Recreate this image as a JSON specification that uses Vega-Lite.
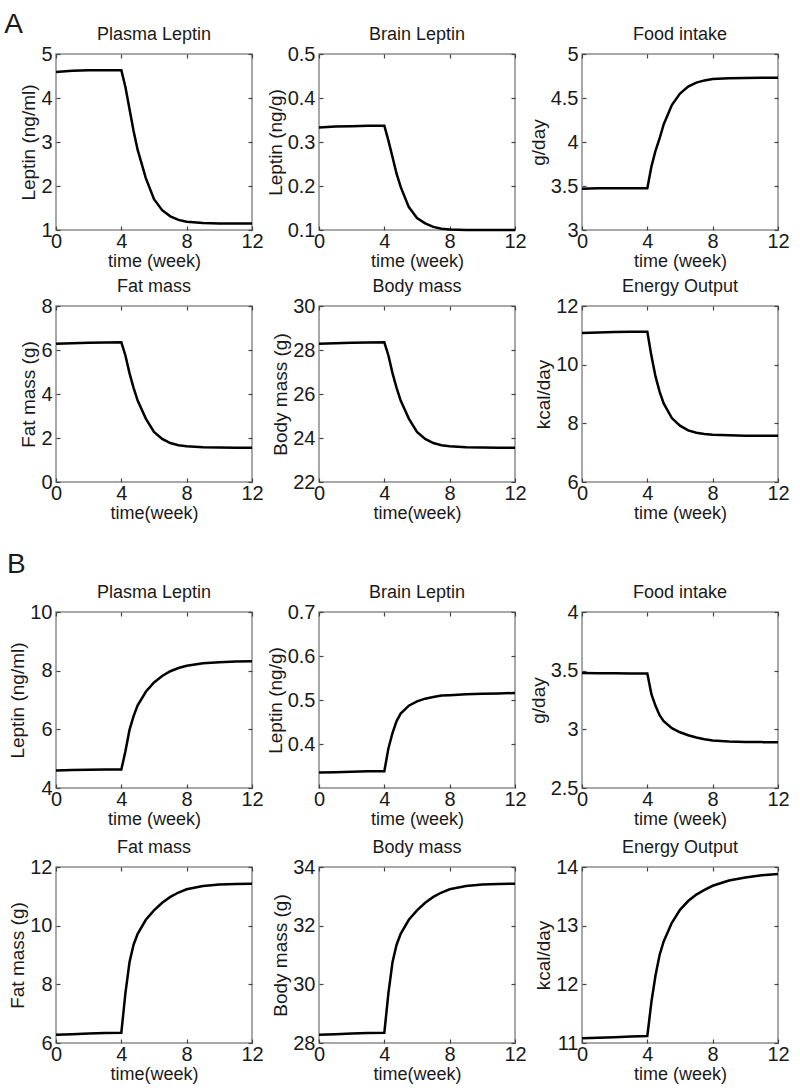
{
"$schema": "https://vega.github.io/schema/vega-lite/v6.json",
"padding": {"left": 4, "top": 11, "right": 5, "bottom": 5},
"background": "white",
"datasets": {
"A11": [{"t":0,"v":4.59},{"t":1,"v":4.62},{"t":2,"v":4.63},{"t":3,"v":4.63},{"t":4,"v":4.63},{"t":4.25,"v":4.25},{"t":4.5,"v":3.75},{"t":4.75,"v":3.25},{"t":5,"v":2.82},{"t":5.5,"v":2.18},{"t":6,"v":1.7},{"t":6.5,"v":1.45},{"t":7,"v":1.31},{"t":7.5,"v":1.23},{"t":8,"v":1.19},{"t":9,"v":1.16},{"t":10,"v":1.15},{"t":11,"v":1.15},{"t":12,"v":1.15}],
"A12": [{"t":0,"v":0.333},{"t":1,"v":0.335},{"t":2,"v":0.336},{"t":3,"v":0.337},{"t":4,"v":0.337},{"t":4.25,"v":0.303},{"t":4.5,"v":0.266},{"t":4.75,"v":0.228},{"t":5,"v":0.198},{"t":5.5,"v":0.152},{"t":6,"v":0.127},{"t":6.5,"v":0.115},{"t":7,"v":0.107},{"t":7.5,"v":0.103},{"t":8,"v":0.101},{"t":9,"v":0.1},{"t":10,"v":0.1},{"t":11,"v":0.1},{"t":12,"v":0.1}],
"A13": [{"t":0,"v":3.47},{"t":1,"v":3.475},{"t":2,"v":3.475},{"t":3,"v":3.475},{"t":4,"v":3.475},{"t":4.25,"v":3.72},{"t":4.5,"v":3.9},{"t":4.75,"v":4.04},{"t":5,"v":4.2},{"t":5.5,"v":4.42},{"t":6,"v":4.55},{"t":6.5,"v":4.63},{"t":7,"v":4.675},{"t":7.5,"v":4.7},{"t":8,"v":4.715},{"t":9,"v":4.725},{"t":10,"v":4.728},{"t":11,"v":4.73},{"t":12,"v":4.73}],
"A21": [{"t":0,"v":6.28},{"t":1,"v":6.31},{"t":2,"v":6.33},{"t":3,"v":6.34},{"t":4,"v":6.35},{"t":4.25,"v":5.75},{"t":4.5,"v":4.95},{"t":4.75,"v":4.28},{"t":5,"v":3.7},{"t":5.5,"v":2.88},{"t":6,"v":2.28},{"t":6.5,"v":1.96},{"t":7,"v":1.77},{"t":7.5,"v":1.67},{"t":8,"v":1.62},{"t":9,"v":1.58},{"t":10,"v":1.57},{"t":11,"v":1.56},{"t":12,"v":1.56}],
"A22": [{"t":0,"v":28.28},{"t":1,"v":28.31},{"t":2,"v":28.33},{"t":3,"v":28.34},{"t":4,"v":28.35},{"t":4.25,"v":27.75},{"t":4.5,"v":26.95},{"t":4.75,"v":26.28},{"t":5,"v":25.7},{"t":5.5,"v":24.88},{"t":6,"v":24.28},{"t":6.5,"v":23.96},{"t":7,"v":23.77},{"t":7.5,"v":23.67},{"t":8,"v":23.62},{"t":9,"v":23.58},{"t":10,"v":23.57},{"t":11,"v":23.56},{"t":12,"v":23.56}],
"A23": [{"t":0,"v":11.08},{"t":1,"v":11.1},{"t":2,"v":11.11},{"t":3,"v":11.12},{"t":4,"v":11.12},{"t":4.25,"v":10.3},{"t":4.5,"v":9.6},{"t":4.75,"v":9.08},{"t":5,"v":8.68},{"t":5.5,"v":8.18},{"t":6,"v":7.92},{"t":6.5,"v":7.76},{"t":7,"v":7.68},{"t":7.5,"v":7.64},{"t":8,"v":7.61},{"t":9,"v":7.59},{"t":10,"v":7.58},{"t":11,"v":7.58},{"t":12,"v":7.58}],
"B11": [{"t":0,"v":4.6},{"t":1,"v":4.61},{"t":2,"v":4.62},{"t":3,"v":4.63},{"t":4,"v":4.63},{"t":4.25,"v":5.25},{"t":4.5,"v":5.98},{"t":4.75,"v":6.45},{"t":5,"v":6.82},{"t":5.5,"v":7.28},{"t":6,"v":7.6},{"t":6.5,"v":7.82},{"t":7,"v":7.98},{"t":7.5,"v":8.09},{"t":8,"v":8.17},{"t":9,"v":8.25},{"t":10,"v":8.29},{"t":11,"v":8.31},{"t":12,"v":8.32}],
"B12": [{"t":0,"v":0.335},{"t":1,"v":0.336},{"t":2,"v":0.337},{"t":3,"v":0.338},{"t":4,"v":0.338},{"t":4.25,"v":0.39},{"t":4.5,"v":0.425},{"t":4.75,"v":0.452},{"t":5,"v":0.469},{"t":5.5,"v":0.487},{"t":6,"v":0.497},{"t":6.5,"v":0.503},{"t":7,"v":0.507},{"t":7.5,"v":0.51},{"t":8,"v":0.511},{"t":9,"v":0.513},{"t":10,"v":0.514},{"t":11,"v":0.515},{"t":12,"v":0.516}],
"B13": [{"t":0,"v":3.48},{"t":1,"v":3.478},{"t":2,"v":3.477},{"t":3,"v":3.476},{"t":4,"v":3.476},{"t":4.25,"v":3.3},{"t":4.5,"v":3.2},{"t":4.75,"v":3.12},{"t":5,"v":3.07},{"t":5.5,"v":3.01},{"t":6,"v":2.975},{"t":6.5,"v":2.95},{"t":7,"v":2.93},{"t":7.5,"v":2.915},{"t":8,"v":2.905},{"t":9,"v":2.897},{"t":10,"v":2.893},{"t":11,"v":2.891},{"t":12,"v":2.89}],
"B21": [{"t":0,"v":6.28},{"t":1,"v":6.3},{"t":2,"v":6.32},{"t":3,"v":6.34},{"t":4,"v":6.35},{"t":4.25,"v":7.7},{"t":4.5,"v":8.75},{"t":4.75,"v":9.35},{"t":5,"v":9.72},{"t":5.5,"v":10.2},{"t":6,"v":10.52},{"t":6.5,"v":10.78},{"t":7,"v":10.98},{"t":7.5,"v":11.13},{"t":8,"v":11.24},{"t":9,"v":11.35},{"t":10,"v":11.4},{"t":11,"v":11.42},{"t":12,"v":11.43}],
"B22": [{"t":0,"v":28.28},{"t":1,"v":28.3},{"t":2,"v":28.32},{"t":3,"v":28.34},{"t":4,"v":28.35},{"t":4.25,"v":29.7},{"t":4.5,"v":30.75},{"t":4.75,"v":31.35},{"t":5,"v":31.72},{"t":5.5,"v":32.2},{"t":6,"v":32.52},{"t":6.5,"v":32.78},{"t":7,"v":32.98},{"t":7.5,"v":33.13},{"t":8,"v":33.24},{"t":9,"v":33.35},{"t":10,"v":33.4},{"t":11,"v":33.42},{"t":12,"v":33.43}],
"B23": [{"t":0,"v":11.08},{"t":1,"v":11.09},{"t":2,"v":11.1},{"t":3,"v":11.11},{"t":4,"v":11.12},{"t":4.25,"v":11.7},{"t":4.5,"v":12.15},{"t":4.75,"v":12.5},{"t":5,"v":12.73},{"t":5.5,"v":13.05},{"t":6,"v":13.27},{"t":6.5,"v":13.42},{"t":7,"v":13.53},{"t":7.5,"v":13.61},{"t":8,"v":13.68},{"t":9,"v":13.77},{"t":10,"v":13.82},{"t":11,"v":13.86},{"t":12,"v":13.88}]
},
"spacing": 28,
"columns": 1,
"align": "none",
"concat": [
{"title": {"text": "A", "fontSize": 28, "anchor": "start", "offset": -14, "dx": -15, "dy": 0},
 "spacing": 6,
 "vconcat": [
  {"hconcat": [
   {"title": "Plasma Leptin", "width": 196, "height": 176, "data": {"name": "A11"}, "resolve": {"axis": {"x": "independent", "y": "independent"}},
    "layer": [
     {"mark": "line", "encoding": {"x": {"field": "t", "type": "quantitative", "scale": {"domain": [0, 12], "nice": false}, "axis": {"values": [0, 4, 8, 12], "title": "time (week)"}},
                 "y": {"field": "v", "type": "quantitative", "scale": {"domain": [1, 5], "nice": false, "zero": false}, "axis": {"values": [1, 2, 3, 4, 5], "format": ".2~f", "title": "Leptin (ng/ml)"}}}},
     {"mark": {"type": "line", "strokeOpacity": 0}, "encoding": {"x": {"field": "t", "type": "quantitative", "scale": {"domain": [0, 12], "nice": false}, "axis": {"orient": "top", "values": [0, 4, 8, 12], "labels": false, "title": null}},
                 "y": {"field": "v", "type": "quantitative", "scale": {"domain": [1, 5], "nice": false, "zero": false}, "axis": {"orient": "right", "values": [1, 2, 3, 4, 5], "labels": false, "title": null}}}}
    ]},
   {"title": "Brain Leptin", "width": 196, "height": 176, "data": {"name": "A12"}, "resolve": {"axis": {"x": "independent", "y": "independent"}},
    "layer": [
     {"mark": "line", "encoding": {"x": {"field": "t", "type": "quantitative", "scale": {"domain": [0, 12], "nice": false}, "axis": {"values": [0, 4, 8, 12], "title": "time (week)"}},
                 "y": {"field": "v", "type": "quantitative", "scale": {"domain": [0.1, 0.5], "nice": false, "zero": false}, "axis": {"values": [0.1, 0.2, 0.3, 0.4, 0.5], "format": ".2~f", "title": "Leptin (ng/g)"}}}},
     {"mark": {"type": "line", "strokeOpacity": 0}, "encoding": {"x": {"field": "t", "type": "quantitative", "scale": {"domain": [0, 12], "nice": false}, "axis": {"orient": "top", "values": [0, 4, 8, 12], "labels": false, "title": null}},
                 "y": {"field": "v", "type": "quantitative", "scale": {"domain": [0.1, 0.5], "nice": false, "zero": false}, "axis": {"orient": "right", "values": [0.1, 0.2, 0.3, 0.4, 0.5], "labels": false, "title": null}}}}
    ]},
   {"title": "Food intake", "width": 196, "height": 176, "data": {"name": "A13"}, "resolve": {"axis": {"x": "independent", "y": "independent"}},
    "layer": [
     {"mark": "line", "encoding": {"x": {"field": "t", "type": "quantitative", "scale": {"domain": [0, 12], "nice": false}, "axis": {"values": [0, 4, 8, 12], "title": "time (week)"}},
                 "y": {"field": "v", "type": "quantitative", "scale": {"domain": [3, 5], "nice": false, "zero": false}, "axis": {"values": [3, 3.5, 4, 4.5, 5], "format": ".2~f", "title": "g/day"}}}},
     {"mark": {"type": "line", "strokeOpacity": 0}, "encoding": {"x": {"field": "t", "type": "quantitative", "scale": {"domain": [0, 12], "nice": false}, "axis": {"orient": "top", "values": [0, 4, 8, 12], "labels": false, "title": null}},
                 "y": {"field": "v", "type": "quantitative", "scale": {"domain": [3, 5], "nice": false, "zero": false}, "axis": {"orient": "right", "values": [3, 3.5, 4, 4.5, 5], "labels": false, "title": null}}}}
    ]}
  ], "spacing": 67, "bounds": "flush"},
  {"hconcat": [
   {"title": "Fat mass", "width": 196, "height": 176, "data": {"name": "A21"}, "resolve": {"axis": {"x": "independent", "y": "independent"}},
    "layer": [
     {"mark": "line", "encoding": {"x": {"field": "t", "type": "quantitative", "scale": {"domain": [0, 12], "nice": false}, "axis": {"values": [0, 4, 8, 12], "title": "time(week)"}},
                 "y": {"field": "v", "type": "quantitative", "scale": {"domain": [0, 8], "nice": false, "zero": false}, "axis": {"values": [0, 2, 4, 6, 8], "format": ".2~f", "title": "Fat mass (g)"}}}},
     {"mark": {"type": "line", "strokeOpacity": 0}, "encoding": {"x": {"field": "t", "type": "quantitative", "scale": {"domain": [0, 12], "nice": false}, "axis": {"orient": "top", "values": [0, 4, 8, 12], "labels": false, "title": null}},
                 "y": {"field": "v", "type": "quantitative", "scale": {"domain": [0, 8], "nice": false, "zero": false}, "axis": {"orient": "right", "values": [0, 2, 4, 6, 8], "labels": false, "title": null}}}}
    ]},
   {"title": "Body mass", "width": 196, "height": 176, "data": {"name": "A22"}, "resolve": {"axis": {"x": "independent", "y": "independent"}},
    "layer": [
     {"mark": "line", "encoding": {"x": {"field": "t", "type": "quantitative", "scale": {"domain": [0, 12], "nice": false}, "axis": {"values": [0, 4, 8, 12], "title": "time(week)"}},
                 "y": {"field": "v", "type": "quantitative", "scale": {"domain": [22, 30], "nice": false, "zero": false}, "axis": {"values": [22, 24, 26, 28, 30], "format": ".2~f", "title": "Body mass (g)"}}}},
     {"mark": {"type": "line", "strokeOpacity": 0}, "encoding": {"x": {"field": "t", "type": "quantitative", "scale": {"domain": [0, 12], "nice": false}, "axis": {"orient": "top", "values": [0, 4, 8, 12], "labels": false, "title": null}},
                 "y": {"field": "v", "type": "quantitative", "scale": {"domain": [22, 30], "nice": false, "zero": false}, "axis": {"orient": "right", "values": [22, 24, 26, 28, 30], "labels": false, "title": null}}}}
    ]},
   {"title": "Energy Output", "width": 196, "height": 176, "data": {"name": "A23"}, "resolve": {"axis": {"x": "independent", "y": "independent"}},
    "layer": [
     {"mark": "line", "encoding": {"x": {"field": "t", "type": "quantitative", "scale": {"domain": [0, 12], "nice": false}, "axis": {"values": [0, 4, 8, 12], "title": "time (week)"}},
                 "y": {"field": "v", "type": "quantitative", "scale": {"domain": [6, 12], "nice": false, "zero": false}, "axis": {"values": [6, 8, 10, 12], "format": ".2~f", "title": "kcal/day"}}}},
     {"mark": {"type": "line", "strokeOpacity": 0}, "encoding": {"x": {"field": "t", "type": "quantitative", "scale": {"domain": [0, 12], "nice": false}, "axis": {"orient": "top", "values": [0, 4, 8, 12], "labels": false, "title": null}},
                 "y": {"field": "v", "type": "quantitative", "scale": {"domain": [6, 12], "nice": false, "zero": false}, "axis": {"orient": "right", "values": [6, 8, 10, 12], "labels": false, "title": null}}}}
    ]}
  ], "spacing": 67, "bounds": "flush"}
 ]},
{"title": {"text": "B", "fontSize": 28, "anchor": "start", "offset": 4, "dx": -1, "dy": 0},
 "spacing": 9,
 "vconcat": [
  {"hconcat": [
   {"title": "Plasma Leptin", "width": 196, "height": 176, "data": {"name": "B11"}, "resolve": {"axis": {"x": "independent", "y": "independent"}},
    "layer": [
     {"mark": "line", "encoding": {"x": {"field": "t", "type": "quantitative", "scale": {"domain": [0, 12], "nice": false}, "axis": {"values": [0, 4, 8, 12], "title": "time (week)"}},
                 "y": {"field": "v", "type": "quantitative", "scale": {"domain": [4, 10], "nice": false, "zero": false}, "axis": {"values": [4, 6, 8, 10], "format": ".2~f", "title": "Leptin (ng/ml)"}}}},
     {"mark": {"type": "line", "strokeOpacity": 0}, "encoding": {"x": {"field": "t", "type": "quantitative", "scale": {"domain": [0, 12], "nice": false}, "axis": {"orient": "top", "values": [0, 4, 8, 12], "labels": false, "title": null}},
                 "y": {"field": "v", "type": "quantitative", "scale": {"domain": [4, 10], "nice": false, "zero": false}, "axis": {"orient": "right", "values": [4, 6, 8, 10], "labels": false, "title": null}}}}
    ]},
   {"title": "Brain Leptin", "width": 196, "height": 176, "data": {"name": "B12"}, "resolve": {"axis": {"x": "independent", "y": "independent"}},
    "layer": [
     {"mark": "line", "encoding": {"x": {"field": "t", "type": "quantitative", "scale": {"domain": [0, 12], "nice": false}, "axis": {"values": [0, 4, 8, 12], "title": "time (week)"}},
                 "y": {"field": "v", "type": "quantitative", "scale": {"domain": [0.3, 0.7], "nice": false, "zero": false}, "axis": {"values": [0.4, 0.5, 0.6, 0.7], "format": ".2~f", "title": "Leptin (ng/g)"}}}},
     {"mark": {"type": "line", "strokeOpacity": 0}, "encoding": {"x": {"field": "t", "type": "quantitative", "scale": {"domain": [0, 12], "nice": false}, "axis": {"orient": "top", "values": [0, 4, 8, 12], "labels": false, "title": null}},
                 "y": {"field": "v", "type": "quantitative", "scale": {"domain": [0.3, 0.7], "nice": false, "zero": false}, "axis": {"orient": "right", "values": [0.4, 0.5, 0.6, 0.7], "labels": false, "title": null}}}}
    ]},
   {"title": "Food intake", "width": 196, "height": 176, "data": {"name": "B13"}, "resolve": {"axis": {"x": "independent", "y": "independent"}},
    "layer": [
     {"mark": "line", "encoding": {"x": {"field": "t", "type": "quantitative", "scale": {"domain": [0, 12], "nice": false}, "axis": {"values": [0, 4, 8, 12], "title": "time (week)"}},
                 "y": {"field": "v", "type": "quantitative", "scale": {"domain": [2.5, 4], "nice": false, "zero": false}, "axis": {"values": [2.5, 3, 3.5, 4], "format": ".2~f", "title": "g/day"}}}},
     {"mark": {"type": "line", "strokeOpacity": 0}, "encoding": {"x": {"field": "t", "type": "quantitative", "scale": {"domain": [0, 12], "nice": false}, "axis": {"orient": "top", "values": [0, 4, 8, 12], "labels": false, "title": null}},
                 "y": {"field": "v", "type": "quantitative", "scale": {"domain": [2.5, 4], "nice": false, "zero": false}, "axis": {"orient": "right", "values": [2.5, 3, 3.5, 4], "labels": false, "title": null}}}}
    ]}
  ], "spacing": 67, "bounds": "flush"},
  {"hconcat": [
   {"title": "Fat mass", "width": 196, "height": 176, "data": {"name": "B21"}, "resolve": {"axis": {"x": "independent", "y": "independent"}},
    "layer": [
     {"mark": "line", "encoding": {"x": {"field": "t", "type": "quantitative", "scale": {"domain": [0, 12], "nice": false}, "axis": {"values": [0, 4, 8, 12], "title": "time(week)"}},
                 "y": {"field": "v", "type": "quantitative", "scale": {"domain": [6, 12], "nice": false, "zero": false}, "axis": {"values": [6, 8, 10, 12], "format": ".2~f", "title": "Fat mass (g)"}}}},
     {"mark": {"type": "line", "strokeOpacity": 0}, "encoding": {"x": {"field": "t", "type": "quantitative", "scale": {"domain": [0, 12], "nice": false}, "axis": {"orient": "top", "values": [0, 4, 8, 12], "labels": false, "title": null}},
                 "y": {"field": "v", "type": "quantitative", "scale": {"domain": [6, 12], "nice": false, "zero": false}, "axis": {"orient": "right", "values": [6, 8, 10, 12], "labels": false, "title": null}}}}
    ]},
   {"title": "Body mass", "width": 196, "height": 176, "data": {"name": "B22"}, "resolve": {"axis": {"x": "independent", "y": "independent"}},
    "layer": [
     {"mark": "line", "encoding": {"x": {"field": "t", "type": "quantitative", "scale": {"domain": [0, 12], "nice": false}, "axis": {"values": [0, 4, 8, 12], "title": "time(week)"}},
                 "y": {"field": "v", "type": "quantitative", "scale": {"domain": [28, 34], "nice": false, "zero": false}, "axis": {"values": [28, 30, 32, 34], "format": ".2~f", "title": "Body mass (g)"}}}},
     {"mark": {"type": "line", "strokeOpacity": 0}, "encoding": {"x": {"field": "t", "type": "quantitative", "scale": {"domain": [0, 12], "nice": false}, "axis": {"orient": "top", "values": [0, 4, 8, 12], "labels": false, "title": null}},
                 "y": {"field": "v", "type": "quantitative", "scale": {"domain": [28, 34], "nice": false, "zero": false}, "axis": {"orient": "right", "values": [28, 30, 32, 34], "labels": false, "title": null}}}}
    ]},
   {"title": "Energy Output", "width": 196, "height": 176, "data": {"name": "B23"}, "resolve": {"axis": {"x": "independent", "y": "independent"}},
    "layer": [
     {"mark": "line", "encoding": {"x": {"field": "t", "type": "quantitative", "scale": {"domain": [0, 12], "nice": false}, "axis": {"values": [0, 4, 8, 12], "title": "time (week)"}},
                 "y": {"field": "v", "type": "quantitative", "scale": {"domain": [11, 14], "nice": false, "zero": false}, "axis": {"values": [11, 12, 13, 14], "format": ".2~f", "title": "kcal/day"}}}},
     {"mark": {"type": "line", "strokeOpacity": 0}, "encoding": {"x": {"field": "t", "type": "quantitative", "scale": {"domain": [0, 12], "nice": false}, "axis": {"orient": "top", "values": [0, 4, 8, 12], "labels": false, "title": null}},
                 "y": {"field": "v", "type": "quantitative", "scale": {"domain": [11, 14], "nice": false, "zero": false}, "axis": {"orient": "right", "values": [11, 12, 13, 14], "labels": false, "title": null}}}}
    ]}
  ], "spacing": 67, "bounds": "flush"}
 ]}
],
"config": {
 "font": "Liberation Sans",
 "view": {"stroke": "#8c8c8c", "strokeWidth": 1.5},
 "line": {"color": "black", "strokeWidth": 2.5},
 "axis": {"grid": false, "domain": false, "ticks": true, "tickSize": -4, "tickColor": "#444444", "tickWidth": 1.2,
          "labelFont": "Liberation Sans", "labelFontSize": 20, "labelColor": "#1a1a1a", "labelPadding": 8,
          "labelFlush": false, "labelOverlap": false, "labelBound": false,
          "titleFont": "Liberation Sans", "titleFontSize": 19, "titleFontWeight": "normal", "titleColor": "#1a1a1a"},
 "axisX": {"titlePadding": 1, "titleFontSize": 18, "labelPadding": 5},
 "axisY": {"titlePadding": 2},
 "title": {"font": "Liberation Sans", "fontSize": 18, "fontWeight": "normal", "color": "#1a1a1a", "offset": 8, "dy": 8}
}
}
